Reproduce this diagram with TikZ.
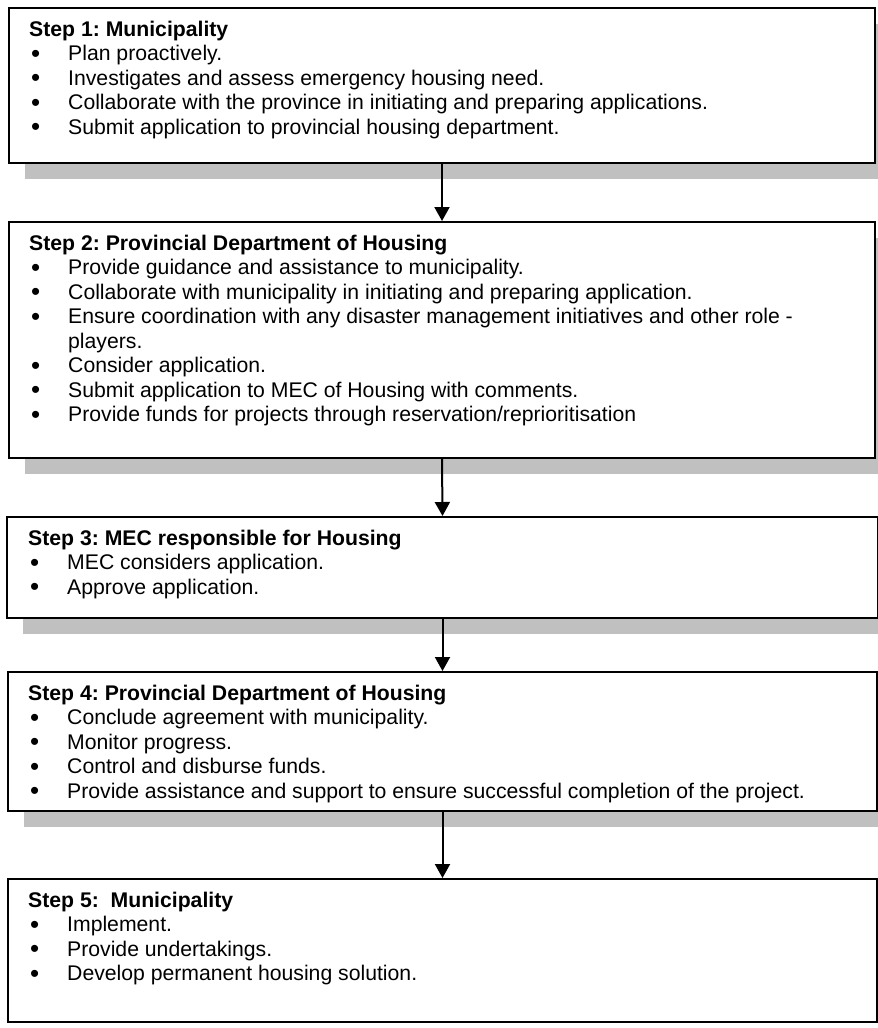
\documentclass[tikz,border=0pt]{standalone}
\usepackage{fontspec}
\setmainfont{Liberation Sans}
\usetikzlibrary{arrows.meta,shadows}
\definecolor{shadowgray}{HTML}{C0C0C0}
\newcommand{\bitem}[1]{\makebox[39pt][l]{\hspace{2pt}{\fontsize{26}{24.5}\selectfont\raisebox{-1.6pt}{•}}}#1}
\tikzset{
  stepbox/.style={draw=black, line width=2pt, fill=white, rectangle, inner sep=0pt, anchor=north west,
    drop shadow={shadow xshift=16pt, shadow yshift=-16pt, fill=shadowgray, opacity=1}},
  lastbox/.style={draw=black, line width=2pt, fill=white, rectangle, inner sep=0pt, anchor=north west},
  txt/.style={anchor=base west, inner sep=0pt, font=\fontsize{21.2}{24.5}\selectfont\frenchspacing},
  flow/.style={line width=2pt, -{Triangle[length=14pt,width=15pt]}}
}
\begin{document}
\begin{tikzpicture}[x=1pt,y=-1pt]
\useasboundingbox (0,0) rectangle (878,1028);
\clip (0,0) rectangle (878,1028);
\fill[white] (0,0) rectangle (878,1028);

\node[stepbox, minimum width=866pt, minimum height=155pt] (b1) at (8,7) {};
\node[stepbox, minimum width=866pt, minimum height=236pt] (b2) at (8,221) {};
\node[stepbox, minimum width=871pt, minimum height=101pt] (b3) at (6,516) {};
\node[stepbox, minimum width=869pt, minimum height=139pt] (b4) at (7,671) {};
\node[lastbox, minimum width=869pt, minimum height=143pt] (b5) at (7,878) {};

\node[txt] (t1) at (29,36) {\parbox[t]{840pt}{\frenchspacing\textbf{Step 1: Municipality}\\
\bitem{Plan proactively.}\\
\bitem{Investigates and assess emergency housing need.}\\
\bitem{Collaborate with the province in initiating and preparing applications.}\\
\bitem{Submit application to provincial housing department.}}};

\node[txt] (t2) at (29,250) {\parbox[t]{840pt}{\frenchspacing\textbf{Step 2: Provincial Department of Housing}\\
\bitem{Provide guidance and assistance to municipality.}\\
\bitem{Collaborate with municipality in initiating and preparing application.}\\
\bitem{Ensure coordination with any disaster management initiatives and other role -}\\
\hspace*{39pt}players.\\
\bitem{Consider application.}\\
\bitem{Submit application to MEC of Housing with comments.}\\
\bitem{Provide funds for projects through reservation/reprioritisation}}};

\node[txt] (t3) at (28,545) {\parbox[t]{840pt}{\frenchspacing\textbf{Step 3: MEC responsible for Housing}\\
\bitem{MEC considers application.}\\
\bitem{Approve application.}}};

\node[txt] (t4) at (28,700) {\parbox[t]{840pt}{\frenchspacing\textbf{Step 4: Provincial Department of Housing}\\
\bitem{Conclude agreement with municipality.}\\
\bitem{Monitor progress.}\\
\bitem{Control and disburse funds.}\\
\bitem{Provide assistance and support to ensure successful completion of the project.}}};

\node[txt] (t5) at (28,907) {\parbox[t]{840pt}{\frenchspacing\textbf{Step 5:~ Municipality}\\
\bitem{Implement.}\\
\bitem{Provide undertakings.}\\
\bitem{Develop permanent housing solution.}}};

\draw[flow] (b1.south) -- (b2.north);
\draw[flow] (b2.south) -- (b3.north);
\draw[flow] (b3.south) -- (b4.north);
\draw[flow] (b4.south) -- (b5.north);
\end{tikzpicture}
\end{document}
